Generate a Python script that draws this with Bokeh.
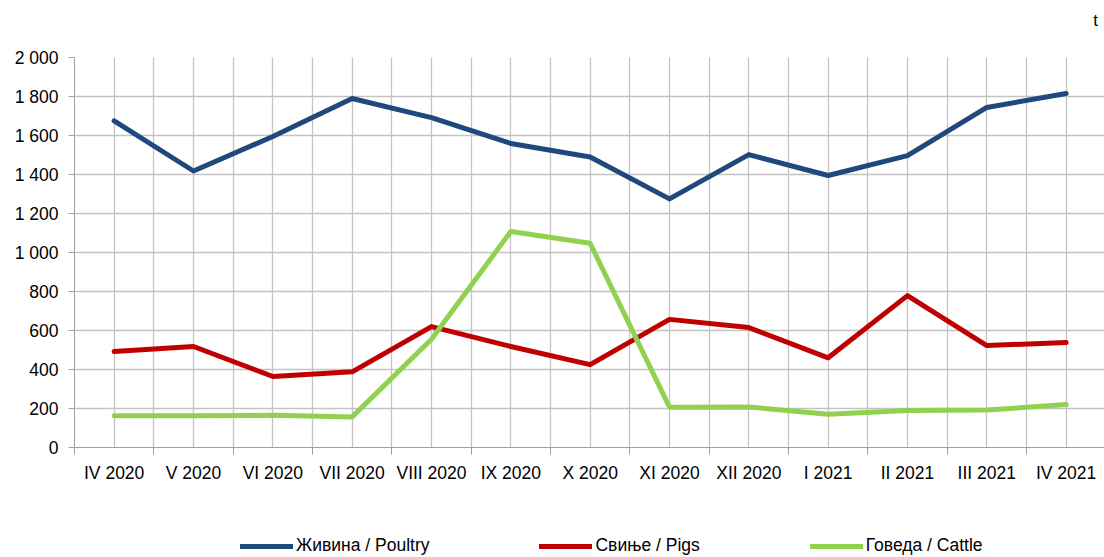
from bokeh.plotting import figure
from bokeh.layouts import column
from bokeh.models import (Range1d, FixedTicker, Legend, LegendItem, Label, ColumnDataSource)
from bokeh.embed import file_html
from bokeh.resources import INLINE

categories = ["IV 2020", "V 2020", "VI 2020", "VII 2020", "VIII 2020", "IX 2020", "X 2020",
              "XI 2020", "XII 2020", "I 2021", "II 2021", "III 2021", "IV 2021"]
poultry = [1675, 1418, 1595, 1790, 1692, 1559, 1490, 1275, 1502, 1395, 1497, 1744, 1815]
pigs = [492, 518, 364, 388, 620, 518, 425, 657, 615, 460, 779, 523, 538]
cattle = [163, 163, 165, 157, 555, 1108, 1047, 207, 208, 170, 190, 192, 220]
y_ticks = [0, 200, 400, 600, 800, 1000, 1200, 1400, 1600, 1800, 2000]
y_tick_labels = ["0", "200", "400", "600", "800", "1 000", "1 200", "1 400", "1 600", "1 800", "2 000"]
series_names = ["Живина / Poultry", "Свиње / Pigs", "Говеда / Cattle"]
series_colors = ["#1f497d", "#c00000", "#92d050"]
unit_label = "t"

FONT = "Liberation Sans"
W = 1104
H0, H1, H2 = 40, 460, 57
left = 74
top = 57 - H0
bottom = H1 - top - 390
cat_w = 79.33
xs = [i + 0.5 for i in range(len(categories))]
x_end = (W - left) / cat_w

def strip(height):
    f = figure(width=W, height=height, output_backend="svg", toolbar_location=None,
               x_axis_type=None, y_axis_type=None, x_range=Range1d(0, x_end),
               y_range=Range1d(-3000, -2000),
               min_border=0, min_border_left=0, min_border_right=0,
               min_border_top=0, min_border_bottom=0)
    f.outline_line_color = None
    f.xgrid.visible = False
    f.ygrid.visible = False
    return f

# top strip with the unit
top_strip = strip(H0)
top_strip.add_layout(Label(x=1021, y=H0 - 20, x_units="screen", y_units="screen", text=unit_label,
                           text_align="center", text_baseline="middle",
                           text_font=FONT, text_font_size="17px", text_color="black"))

p = figure(width=W, height=H1, output_backend="svg", toolbar_location=None,
           x_range=Range1d(0, x_end), y_range=Range1d(0, 2000),
           min_border_left=left, min_border_top=top, min_border_bottom=bottom,
           min_border_right=0)
p.outline_line_color = None
p.background_fill_color = "white"

# x axis
p.xaxis.ticker = FixedTicker(ticks=xs, minor_ticks=list(range(len(categories) + 1)))
p.xaxis.major_label_overrides = {x: c for x, c in zip(xs, categories)}
p.xaxis.major_tick_line_color = None
p.xaxis.major_tick_out = 0
p.xaxis.minor_tick_out = 7
p.xaxis.minor_tick_in = 0
p.xaxis.minor_tick_line_color = "#a0a0a0"
p.xaxis.axis_line_color = "#a0a0a0"
p.xaxis.major_label_standoff = 8
p.xaxis.major_label_text_font = FONT
p.xaxis.major_label_text_font_size = "17.5px"
p.xaxis.major_label_text_color = "black"

# y axis
p.yaxis.ticker = FixedTicker(ticks=y_ticks)
p.yaxis.major_label_overrides = {t: l for t, l in zip(y_ticks, y_tick_labels)}
p.yaxis.minor_tick_line_color = None
p.yaxis.major_tick_out = 6
p.yaxis.major_tick_in = 0
p.yaxis.major_tick_line_color = "#a0a0a0"
p.yaxis.axis_line_color = "#a0a0a0"
p.yaxis.major_label_standoff = 10
p.yaxis.major_label_text_font = FONT
p.yaxis.major_label_text_font_size = "17.5px"
p.yaxis.major_label_text_color = "black"

# grids
p.xgrid.grid_line_color = "#c4c4c4"
p.xgrid.minor_grid_line_color = "#c4c4c4"
p.xgrid.grid_line_width = 1.3
p.xgrid.minor_grid_line_width = 1.3
p.ygrid.grid_line_color = "#c4c4c4"
p.ygrid.grid_line_width = 1.3

series = [poultry, pigs, cattle]
for vals, color in zip(series, series_colors):
    src = ColumnDataSource(dict(x=xs, y=vals))
    p.line("x", "y", source=src, line_color=color, line_width=5, line_join="round", line_cap="round")

# legend strip below the chart (its lines lie outside its visible y range)
lg = strip(H2)
legend_renderers = []
for vals, color in zip(series, series_colors):
    legend_renderers.append(lg.line(x=xs, y=vals, line_color=color, line_width=5, line_cap="round"))
items = [LegendItem(label=n, renderers=[r]) for n, r in zip(series_names, legend_renderers)]
legend = Legend(items=items, orientation="horizontal", location=(166, 1),
                glyph_width=53, glyph_height=18, label_standoff=3, spacing=110,
                padding=0, margin=0, border_line_color=None, background_fill_alpha=0,
                label_text_font=FONT, label_text_font_size="17.5px", label_text_color="black")
lg.add_layout(legend, "center")

layout = column(top_strip, p, lg, spacing=0)
open("out.html", "w").write(file_html(layout, INLINE))
